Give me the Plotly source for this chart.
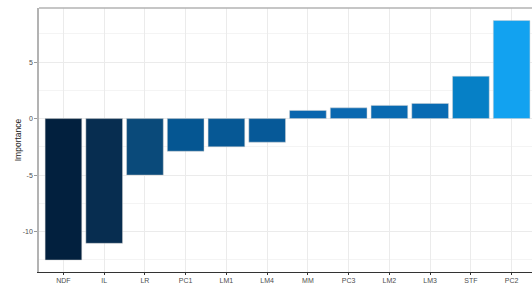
import plotly.graph_objects as go

categories = ["NDF", "IL", "LR", "PC1", "LM1", "LM4", "MM", "PC3", "LM2", "LM3", "STF", "PC2"]
importance = [-12.52, -11.04, -5.0, -2.89, -2.5, -2.09, 0.72, 0.95, 1.17, 1.34, 3.75, 8.68]
y_ticks = [-10, -5, 0, 5]

colorscale = [[0.0, "#02203E"], [0.07, "#072D50"], [0.354, "#0A4A7A"], [0.455, "#055692"],
              [0.625, "#0A66AE"], [0.77, "#0680C6"], [1.0, "#12A2F0"]]

fig = go.Figure(go.Bar(
    x=categories, y=importance,
    marker=dict(color=importance, colorscale=colorscale,
                cmin=min(importance), cmax=max(importance),
                line=dict(color="rgba(210,210,210,0.8)", width=0.6)),
    width=0.9,
))

fig.update_layout(
    width=532, height=284,
    margin=dict(l=39, r=0, t=8, b=12, autoexpand=False),
    paper_bgcolor="white", plot_bgcolor="white",
    showlegend=False,
    font=dict(family="Liberation Sans, Arial, sans-serif", color="#4D4D4D"),
    xaxis=dict(
        range=[-0.6, 11.5], showgrid=True, gridcolor="#EBEBEB", gridwidth=1,
        showline=True, linecolor="#333333", linewidth=1,
        ticks="outside", ticklen=2, tickcolor="#333333", tickwidth=1,
        tickfont=dict(size=7, color="#4D4D4D"), fixedrange=True,
        automargin=False,
    ),
    yaxis=dict(
        range=[-13.58, 9.79], tickvals=y_ticks, ticktext=[str(v) for v in y_ticks],
        showgrid=True, gridcolor="#EBEBEB", gridwidth=1, zeroline=False,
        minor=dict(dtick=2.5, tick0=0, showgrid=True, gridcolor="#F4F4F4", gridwidth=0.6),
        showline=True, linecolor="#B3B3B3", linewidth=1.5,
        ticks="outside", ticklen=3, tickcolor="#999999",
        tickfont=dict(size=7, color="#4D4D4D"), automargin=False,
        title=dict(text="Importance", font=dict(size=8.5, color="#222222"), standoff=0),
    ),
    shapes=[dict(type="line", xref="paper", yref="paper", x0=0, x1=1, y0=1, y1=1,
                 line=dict(color="#B3B3B3", width=1.5))],
)

fig.write_html("out.html", config={"displayModeBar": False},
               post_script="document.body.style.margin='0';document.body.style.overflow='hidden';")
